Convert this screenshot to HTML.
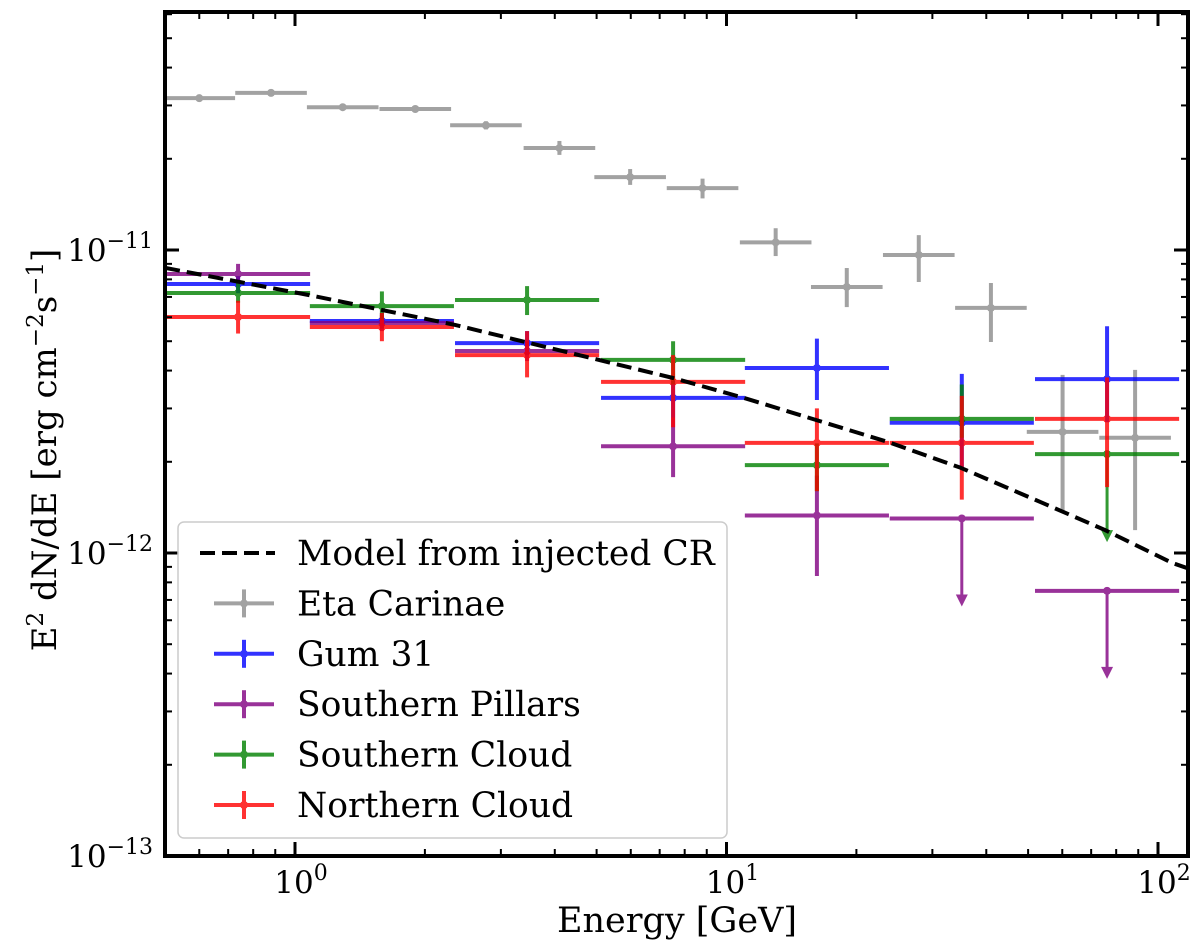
<!DOCTYPE html>
<html><head><meta charset="utf-8"><style>
html,body{margin:0;padding:0;background:#fff;}
svg{display:block;font-family:"DejaVu Serif","Liberation Serif",serif;}
</style></head><body>
<svg id="chart" width="1200" height="945" viewBox="0 0 1200 945" xmlns="http://www.w3.org/2000/svg">
<g id="marks"></g>
<g id="axes"></g>
<g id="legend"></g>
</svg>
<script>
// ---- data ----
const binCenters = [0.738, 1.59, 3.45, 7.52, 16.2, 35.1, 76.2];
const binHalfDex = 0.167;
const etaE = [0.6, 0.88, 1.29, 1.9, 2.77, 4.1, 5.98, 8.8, 13.0, 19.0, 27.9, 41.0, 60.1, 88.5];
const etaVal = [3.17e-11, 3.30e-11, 2.96e-11, 2.92e-11, 2.58e-11, 2.17e-11, 1.74e-11, 1.60e-11, 1.06e-11, 7.55e-12, 9.63e-12, 6.44e-12, 2.51e-12, 2.40e-12];
const etaLo = [3.10e-11, 3.22e-11, 2.90e-11, 2.86e-11, 2.50e-11, 2.06e-11, 1.64e-11, 1.48e-11, 9.55e-12, 6.48e-12, 7.84e-12, 4.97e-12, 1.36e-12, 1.19e-12];
const etaHi = [3.25e-11, 3.38e-11, 3.03e-11, 2.99e-11, 2.66e-11, 2.29e-11, 1.85e-11, 1.72e-11, 1.18e-11, 8.72e-12, 1.12e-11, 7.78e-12, 3.87e-12, 4.02e-12];
const etaHalfDex = 0.083;

const gumVal = [7.72e-12, 5.83e-12, 4.93e-12, 3.25e-12, 4.08e-12, 2.69e-12, 3.75e-12];
const gumLo  = [7.2e-12, 5.5e-12, 4.5e-12, 2.8e-12, 3.2e-12, 1.9e-12, 2.7e-12];
const gumHi  = [8.2e-12, 6.2e-12, 5.4e-12, 3.7e-12, 5.1e-12, 3.9e-12, 5.6e-12];
const gumUL  = [0,0,0,0,0,0,0];

const pilVal = [8.33e-12, 5.74e-12, 4.64e-12, 2.25e-12, 1.33e-12, 1.30e-12, 7.5e-13];
const pilLo  = [7.7e-12, 5.4e-12, 4.3e-12, 1.78e-12, 8.4e-13, 1.30e-12, 7.5e-13];
const pilHi  = [9.0e-12, 6.1e-12, 5.0e-12, 2.8e-12, 1.8e-12, 1.30e-12, 7.5e-13];
const pilUL  = [0,0,0,0,0,1,1];

const scVal = [7.21e-12, 6.53e-12, 6.84e-12, 4.34e-12, 1.95e-12, 2.77e-12, 2.12e-12];
const scLo  = [6.7e-12, 5.9e-12, 6.1e-12, 3.6e-12, 1.6e-12, 2.4e-12, 2.12e-12];
const scHi  = [7.8e-12, 7.3e-12, 7.6e-12, 5.0e-12, 2.3e-12, 3.6e-12, 2.12e-12];
const scUL  = [0,0,0,0,0,0,1];

const ncVal = [6.01e-12, 5.57e-12, 4.50e-12, 3.67e-12, 2.31e-12, 2.31e-12, 2.77e-12];
const ncLo  = [5.3e-12, 5.0e-12, 3.8e-12, 2.6e-12, 1.6e-12, 1.5e-12, 1.65e-12];
const ncHi  = [6.8e-12, 6.2e-12, 5.4e-12, 4.5e-12, 3.0e-12, 3.3e-12, 3.8e-12];
const ncUL  = [0,0,0,0,0,0,0];

const modelE = [0.5, 1.078, 2.35, 7.52, 10.98, 23.8, 34.9, 53.6, 75.4, 108, 120];
const modelVal = [8.73e-12, 7.10e-12, 5.66e-12, 3.78e-12, 3.25e-12, 2.32e-12, 1.91e-12, 1.47e-12, 1.19e-12, 9.27e-13, 8.8e-13];

const xTickExp = [0, 1, 2];
const yTickExp = [-11, -12, -13];

// ---- axes functions ----
const L=165, R=1188, T=12, B=856;
const X0=295, XD=431.5, Y0=250, YD=303;
function sx(e){return X0 + Math.log10(e)*XD;}
function sy(v){return Y0 - (Math.log10(v)+11)*YD;}
const NS="http://www.w3.org/2000/svg";
function mk(tag, attrs, parent){const el=document.createElementNS(NS,tag);for(const k in attrs)el.setAttribute(k,attrs[k]);parent.appendChild(el);return el;}
const marks=document.getElementById('marks');
const axes=document.getElementById('axes');
const legend=document.getElementById('legend');

function drawSeries(name,color,op,centers,half,val,lo,hi,ul){
  const g=mk('g',{opacity:op},marks);
  
  
  for(let i=0;i<val.length;i++){
    const cx=sx(centers[i]), cy=sy(val[i]);
    const x1=sx(centers[i]/Math.pow(10,half)), x2=sx(centers[i]*Math.pow(10,half));
    const h=mk('line',{x1:x1,x2:x2,y1:cy,y2:cy,stroke:color,'stroke-width':4},g);
    
    
    if(ul[i]){
      const v=mk('line',{x1:cx,x2:cx,y1:cy,y2:cy+78,stroke:color,'stroke-width':3},g);
      
      
      mk('path',{d:`M${cx-6},${cy+76} L${cx+6},${cy+76} L${cx},${cy+88} Z`,fill:color},g);
    } else {
      const v=mk('line',{x1:cx,x2:cx,y1:sy(hi[i]),y2:sy(lo[i]),stroke:color,'stroke-width':4},g);
      
      
    }
    const p=mk('circle',{cx:cx,cy:cy,r:4,fill:color},g);
    
    
  }
}
drawSeries('eta-carinae','#999999',0.9,etaE,etaHalfDex,etaVal,etaLo,etaHi,etaVal.map(()=>0));
drawSeries('gum-31','#0000ff',0.8,binCenters,binHalfDex,gumVal,gumLo,gumHi,gumUL);
drawSeries('southern-pillars','#800080',0.8,binCenters,binHalfDex,pilVal,pilLo,pilHi,pilUL);
drawSeries('southern-cloud','#008000',0.8,binCenters,binHalfDex,scVal,scLo,scHi,scUL);
drawSeries('northern-cloud','#ff0000',0.8,binCenters,binHalfDex,ncVal,ncLo,ncHi,ncUL);

// model curve
let d='';
for(let i=0;i<modelE.length;i++){d+=(i?'L':'M')+sx(modelE[i]).toFixed(1)+','+sy(modelVal[i]).toFixed(1);}
const cp=mk('clipPath',{id:'clip'},marks);mk('rect',{x:L,y:T,width:R-L,height:B-T},cp);
const ml=mk('path',{d:d,fill:'none',stroke:'#000','stroke-width':4,'stroke-dasharray':'15,7','stroke-linejoin':'round','clip-path':'url(#clip)'},marks);



// frame
const fr=mk('rect',{x:L,y:T,width:R-L,height:B-T,fill:'none',stroke:'#000','stroke-width':4},axes);


// x ticks
for(let e=-1;e<=2;e++){
  for(let m=1;m<10;m++){
    const x=X0+(e+Math.log10(m))*XD;
    if(x<L+1||x>R-1)continue;
    const len=m===1?14:7, w=m===1?3:2;
    mk('line',{x1:x,x2:x,y1:B,y2:B-len,stroke:'#000','stroke-width':w},axes);
    mk('line',{x1:x,x2:x,y1:T,y2:T+len,stroke:'#000','stroke-width':w},axes);
  }
}
for(const e of xTickExp){
  const t=mk('text',{x:sx(Math.pow(10,e))+6,y:893,'text-anchor':'middle','font-size':31},axes);
  
  
  t.innerHTML='10<tspan dy="-13" font-size="22">'+e+'</tspan>';
}
// y ticks
for(let e=-13;e<=-10;e++){
  for(let m=1;m<10;m++){
    const y=Y0-(e+11+Math.log10(m))*YD;
    if(y<T+1||y>B+1)continue;
    const len=m===1?14:7, w=m===1?3:2;
    mk('line',{x1:L,x2:L+len,y1:y,y2:y,stroke:'#000','stroke-width':w},axes);
    mk('line',{x1:R,x2:R-len,y1:y,y2:y,stroke:'#000','stroke-width':w},axes);
  }
}
for(const e of yTickExp){
  const t=mk('text',{x:153,y:sy(Math.pow(10,e))+11,'text-anchor':'end','font-size':31},axes);
  
  
  t.innerHTML='10<tspan dy="-13" font-size="22">\u2212'+Math.abs(e)+'</tspan>';
}
const xl=mk('text',{x:677,y:932,'text-anchor':'middle','font-size':35},axes);


xl.textContent='Energy [GeV]';
const yl=mk('text',{x:0,y:0,'text-anchor':'middle','font-size':34,transform:'translate(56,450) rotate(-90)'},axes);


yl.innerHTML='E<tspan dy="-13" font-size="23">2</tspan><tspan dy="13"> dN/dE [erg cm</tspan><tspan dy="-13" font-size="23">\u22122</tspan><tspan dy="13">s</tspan><tspan dy="-13" font-size="23">\u22121</tspan><tspan dy="13">]</tspan>';

// legend
const lb=mk('rect',{x:178,y:522,width:549,height:316,rx:6,fill:'#fff','fill-opacity':0.85,stroke:'#ccc','stroke-width':1.5},legend);


const legNames=['Model from injected CR','Eta Carinae','Gum 31','Southern Pillars','Southern Cloud','Northern Cloud'];
const legCols=['#000','#999999','#0000ff','#800080','#008000','#ff0000'];
for(let i=0;i<legNames.length;i++){
  const y=553+i*50.4;
  const g=mk('g',{},legend);
  
  
  if(i===0){
    mk('line',{x1:200,x2:275,y1:y,y2:y,stroke:'#000','stroke-width':4,'stroke-dasharray':'15,7'},g);
  } else {
    const gg=mk('g',{opacity:i===1?0.9:0.8},g);
    mk('line',{x1:214,x2:274,y1:y,y2:y,stroke:legCols[i],'stroke-width':4},gg);
    mk('line',{x1:244,x2:244,y1:y-14,y2:y+14,stroke:legCols[i],'stroke-width':4},gg);
    mk('circle',{cx:244,cy:y,r:4,fill:legCols[i]},gg);
  }
  const t=mk('text',{x:297,y:y+12,'font-size':34.5},g);
  t.textContent=legNames[i];
}
</script>
</body></html>
